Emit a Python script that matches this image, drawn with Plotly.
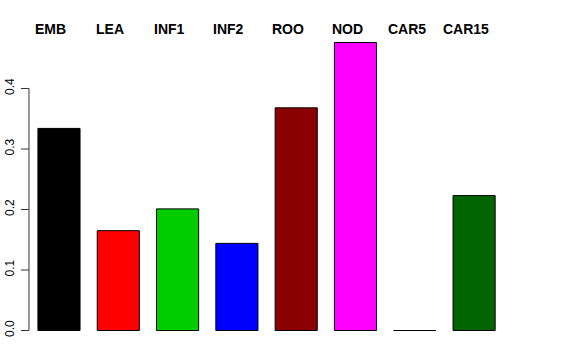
import plotly.graph_objects as go

categories = ["EMB", "LEA", "INF1", "INF2", "ROO", "NOD", "CAR5", "CAR15"]
values = [0.334, 0.165, 0.201, 0.144, 0.368, 0.476, 0.0, 0.223]
colors = ["#000000", "#FF0000", "#00CD00", "#0000FF", "#8B0000", "#FF00FF", "#FFFF00", "#006400"]
y_ticks = [0.0, 0.1, 0.2, 0.3, 0.4]
y_ticklabels = ["0.0", "0.1", "0.2", "0.3", "0.4"]

bar_width = 0.71
xs = list(range(len(categories)))
y_range = [-0.019, 0.495]
x_range = [-0.708, 7.504]
axis_x = -0.506          # where the y axis line sits (data units)
tick_len = 0.135         # tick length in data units

fig = go.Figure()
fig.add_trace(go.Bar(
    x=xs, y=values, width=bar_width,
    marker=dict(color=colors, line=dict(color="#000000", width=1)),
    hoverinfo="skip", showlegend=False,
))

shapes = []
# zero-height bars are drawn as a line at zero
for x, v in zip(xs, values):
    if v == 0:
        shapes.append(dict(type="line", xref="x", yref="y",
                           x0=x - bar_width / 2, x1=x + bar_width / 2, y0=0, y1=0,
                           line=dict(color="#000000", width=1)))
# y axis line spanning the tick range, and tick marks
shapes.append(dict(type="line", xref="x", yref="y", x0=axis_x, x1=axis_x,
                   y0=y_ticks[0], y1=y_ticks[-1],
                   line=dict(color="#333333", width=1)))
for t in y_ticks:
    shapes.append(dict(type="line", xref="x", yref="y", x0=axis_x - tick_len, x1=axis_x,
                       y0=t, y1=t, line=dict(color="#333333", width=1)))

annotations = []
for x, c in zip(xs, categories):
    annotations.append(dict(x=x, y=1, xref="x", yref="paper", text="<b>%s</b>" % c,
                            showarrow=False, xanchor="center", yanchor="middle",
                            xshift=-8, yshift=2,
                            font=dict(family="Liberation Sans, Arial, sans-serif", size=14, color="#000000")))

fig.update_layout(
    width=576, height=360,
    margin=dict(l=17, r=72, t=31, b=17.5, autoexpand=False),
    paper_bgcolor="white", plot_bgcolor="white",
    font=dict(family="Liberation Sans, Arial, sans-serif", size=12, color="#000000"),
    xaxis=dict(range=x_range, showgrid=False, zeroline=False, showline=False,
               showticklabels=False, ticks="", fixedrange=True, automargin=False),
    yaxis=dict(range=y_range, showgrid=False, zeroline=False, showline=False,
               tickmode="array", tickvals=y_ticks, ticktext=y_ticklabels,
               ticks="", tickangle=-90, fixedrange=True, automargin=False),
    shapes=shapes, annotations=annotations,
)

fig.write_html("out.html", post_script="document.body.style.margin='0px';",
               config={"displayModeBar": False})
